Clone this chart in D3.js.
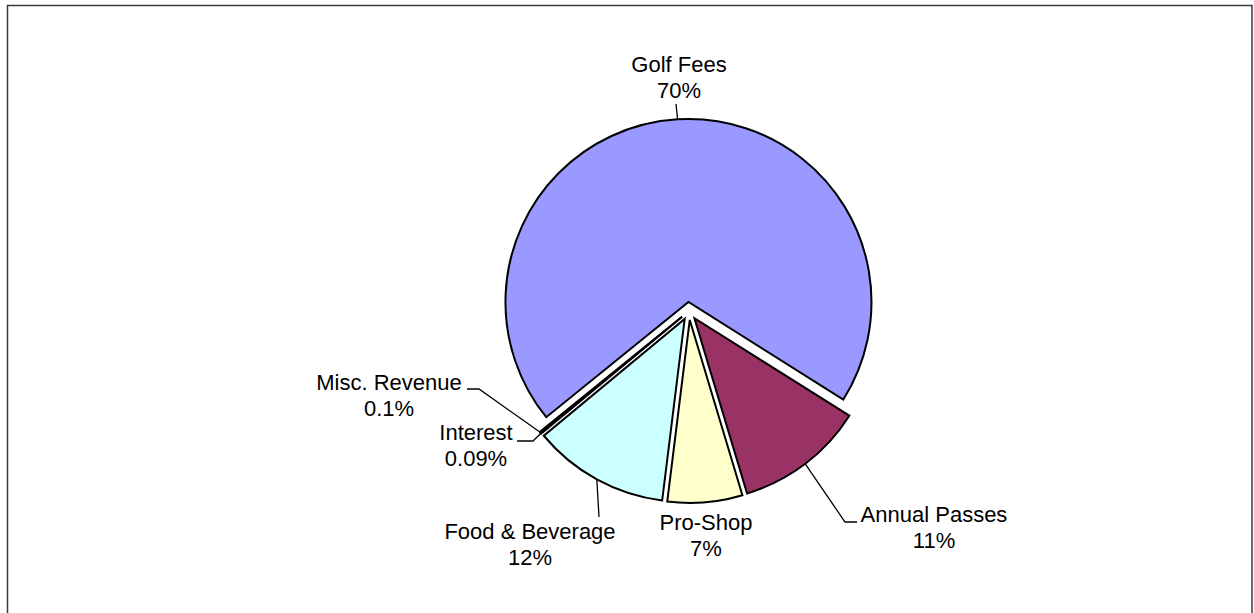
<!DOCTYPE html>
<html>
<head>
<meta charset="utf-8">
<script src="https://cdn.jsdelivr.net/npm/d3@7"></script>
<style>
  html, body { margin: 0; padding: 0; background: #fff; }
  svg { display: block; }
  text { font-family: "Liberation Sans", Arial, sans-serif; font-size: 22px; fill: #000; }
</style>
</head>
<body>
<svg id="chart" width="1254" height="613"></svg>
<script>
// ---- data ----
const categories = ["Golf Fees", "Annual Passes", "Pro-Shop", "Food & Beverage", "Interest", "Misc. Revenue"];
const values = [69.7, 11.4, 6.6, 12.0, 0.09, 0.1];
const colors = ["#9999FF", "#993366", "#FFFFCC", "#CCFFFF", "#660066", "#FF8080"];

// ---- layout (label anchor positions, leader elbows) ----
const labelLayout = [
  { x: 679, y: 72,  leader: [[676, 104]] },
  { x: 934, y: 522, leader: [[845, 522], [857, 522]] },
  { x: 706, y: 530, leader: null },
  { x: 530, y: 539, leader: [[599, 517]] },
  { x: 476, y: 440, leader: [[533, 441], [517, 441]] },
  { x: 389, y: 390, leader: [[479, 389], [467, 389]] }
];

const W = 1254, H = 613;
const cx = 689, cy = 311, R = 183, explode = 9;
const svg = d3.select("#chart");

svg.append("rect")
  .attr("x", 7.5).attr("y", 5.5).attr("width", 1244.5).attr("height", 640)
  .attr("fill", "#fff").attr("stroke", "#3a3a3a").attr("stroke-width", 1.5);

const startA = -129 * Math.PI / 180;
const pie = d3.pie().sort(null).value(d => d).startAngle(startA).endAngle(startA + 2 * Math.PI);
const arcs = pie(values);
const arcGen = d3.arc().innerRadius(0).outerRadius(R);

const fmt = v => v >= 1 ? Math.round(v) + "%" : d3.format(".1~g")(v) + "%";

const g = svg.append("g").attr("transform", `translate(${cx},${cy})`);

arcs.forEach((a, i) => {
  const mid = (a.startAngle + a.endAngle) / 2;
  const dx = explode * Math.sin(mid), dy = -explode * Math.cos(mid);
  g.append("path")
    .attr("d", arcGen(a))
    .attr("transform", `translate(${dx},${dy})`)
    .attr("fill", colors[i])
    .attr("stroke", "#000")
    .attr("stroke-width", 2)
    .attr("stroke-linejoin", "miter");
});

// leaders
arcs.forEach((a, i) => {
  const L = labelLayout[i];
  if (!L.leader) return;
  const mid = (a.startAngle + a.endAngle) / 2;
  const px = cx + (explode + R) * Math.sin(mid);
  const py = cy - (explode + R) * Math.cos(mid);
  const pts = [[px, py]].concat(L.leader);
  svg.append("path")
    .attr("d", d3.line()(pts))
    .attr("fill", "none").attr("stroke", "#000").attr("stroke-width", 1.3);
});

// labels
arcs.forEach((a, i) => {
  const L = labelLayout[i];
  const t = svg.append("text").attr("text-anchor", "middle");
  t.append("tspan").attr("x", L.x).attr("y", L.y).text(categories[i]);
  t.append("tspan").attr("x", L.x).attr("y", L.y + 26).text(fmt(values[i]));
});
</script>
</body>
</html>
